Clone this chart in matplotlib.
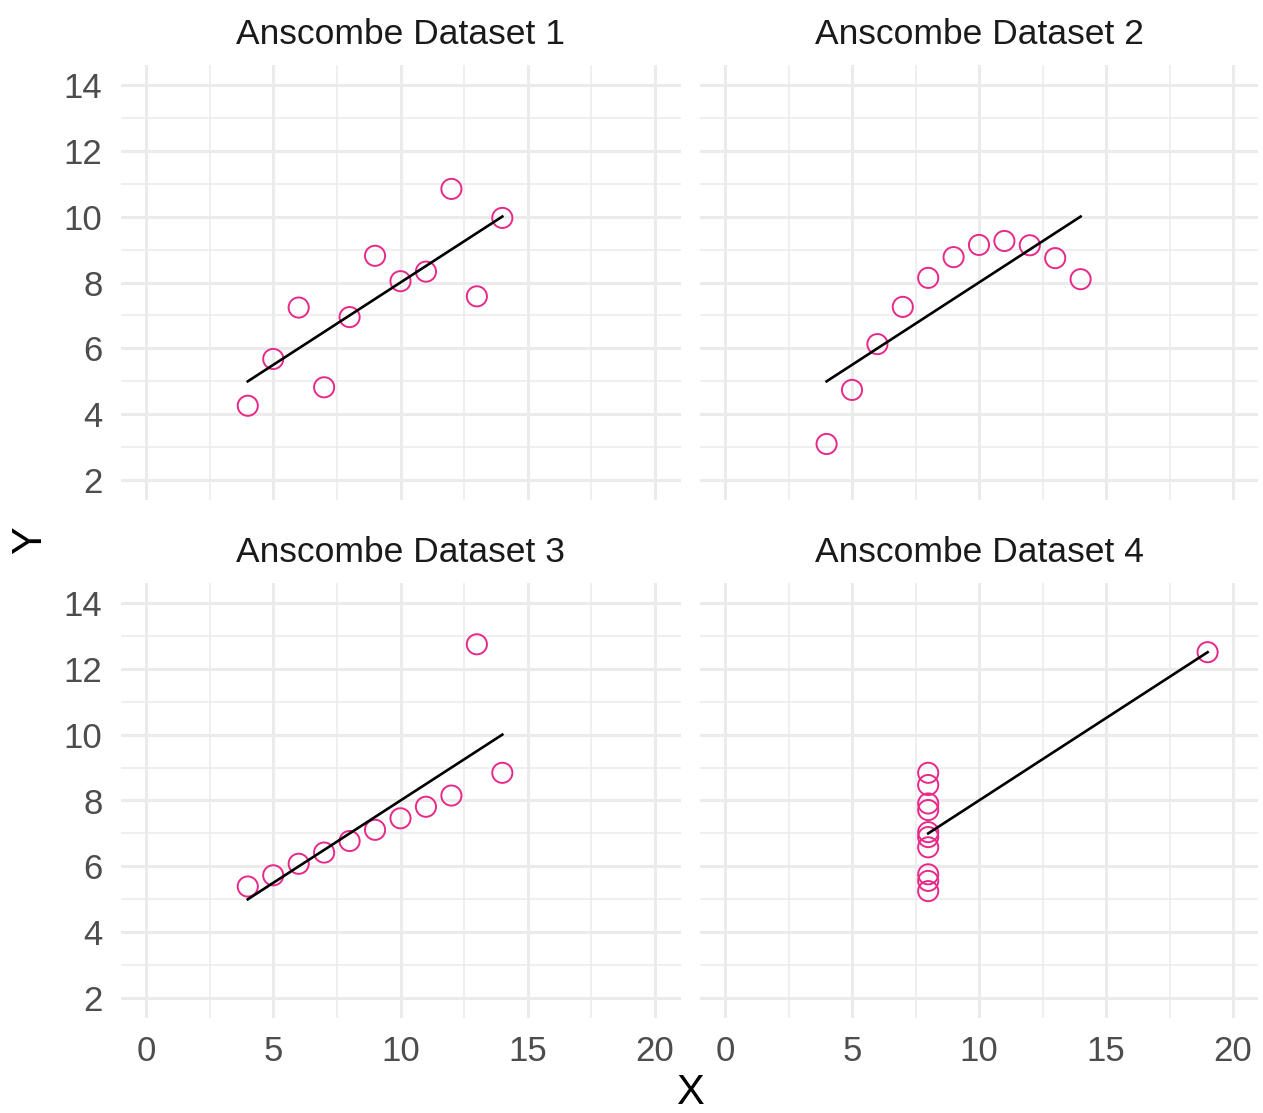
import matplotlib
matplotlib.use('Agg')
import matplotlib.pyplot as plt
import numpy as np

plt.rcParams['font.family'] = ['Liberation Sans', 'DejaVu Sans']

x123 = [10, 8, 13, 9, 11, 14, 6, 4, 12, 7, 5]
y1 = [8.04, 6.95, 7.58, 8.81, 8.33, 9.96, 7.24, 4.26, 10.84, 4.82, 5.68]
y2 = [9.14, 8.14, 8.74, 8.77, 9.26, 8.10, 6.13, 3.10, 9.13, 7.26, 4.74]
y3 = [7.46, 6.77, 12.74, 7.11, 7.81, 8.84, 6.08, 5.39, 8.15, 6.42, 5.73]
x4 = [8, 8, 8, 8, 8, 8, 8, 19, 8, 8, 8]
y4 = [6.58, 5.76, 7.71, 8.84, 8.47, 7.04, 5.25, 12.50, 5.56, 7.91, 6.89]

titles = ['Anscombe Dataset 1', 'Anscombe Dataset 2',
          'Anscombe Dataset 3', 'Anscombe Dataset 4']
datasets = [(x123, y1), (x123, y2), (x123, y3), (x4, y4)]

pink = '#E7298A'
grid_col = '#EBEBEB'

fig = plt.figure(figsize=(12.63, 11.13), dpi=100)
W, H = 1263, 1113
boxes = [(120.5, 680.5, 65, 500), (699.6, 1258.4, 65, 500),
         (120.5, 680.5, 583, 1018), (699.6, 1258.4, 583, 1018)]

for i, ((xs, ys), title, (l, r, t, b)) in enumerate(zip(datasets, titles, boxes)):
    ax = fig.add_axes([l / W, 1 - b / H, (r - l) / W, (b - t) / H])
    xs = np.array(xs, dtype=float)
    ys = np.array(ys, dtype=float)
    ax.scatter(xs, ys, s=14.5 ** 2, facecolors='none', edgecolors=pink,
               linewidths=1.4, zorder=3)
    slope, icpt = np.polyfit(xs, ys, 1)
    xl = np.array([xs.min(), xs.max()])
    ax.plot(xl, icpt + slope * xl, color='black', lw=1.9, zorder=4)
    ax.set_xlim(-1, 21)
    ax.set_ylim(1.4, 14.6)
    ax.set_xticks([0, 5, 10, 15, 20])
    ax.set_xticks([2.5, 7.5, 12.5, 17.5], minor=True)
    ax.set_yticks([2, 4, 6, 8, 10, 12, 14])
    ax.set_yticks([3, 5, 7, 9, 11, 13], minor=True)
    ax.grid(which='major', color=grid_col, lw=2.2)
    ax.grid(which='minor', color=grid_col, lw=1.1)
    ax.set_axisbelow(True)
    for s in ax.spines.values():
        s.set_visible(False)
    ax.tick_params(which='both', length=0, labelsize=25, labelcolor='#4D4D4D')
    ax.tick_params(axis='y', pad=13)
    ax.tick_params(axis='x', pad=12)
    if i in (1, 3):
        ax.set_yticklabels([])
    if i in (0, 1):
        ax.set_xticklabels([])
    ax.set_title(title, fontsize=25.5, color='#1A1A1A', pad=15)

fig.text(30 / W, 1 - 540 / H, 'Y', fontsize=30, rotation=90,
         ha='center', va='center')
fig.text(690 / W, 1 - 1093 / H, 'X', fontsize=30, ha='center', va='center')

fig.savefig('out.png', dpi=100)
